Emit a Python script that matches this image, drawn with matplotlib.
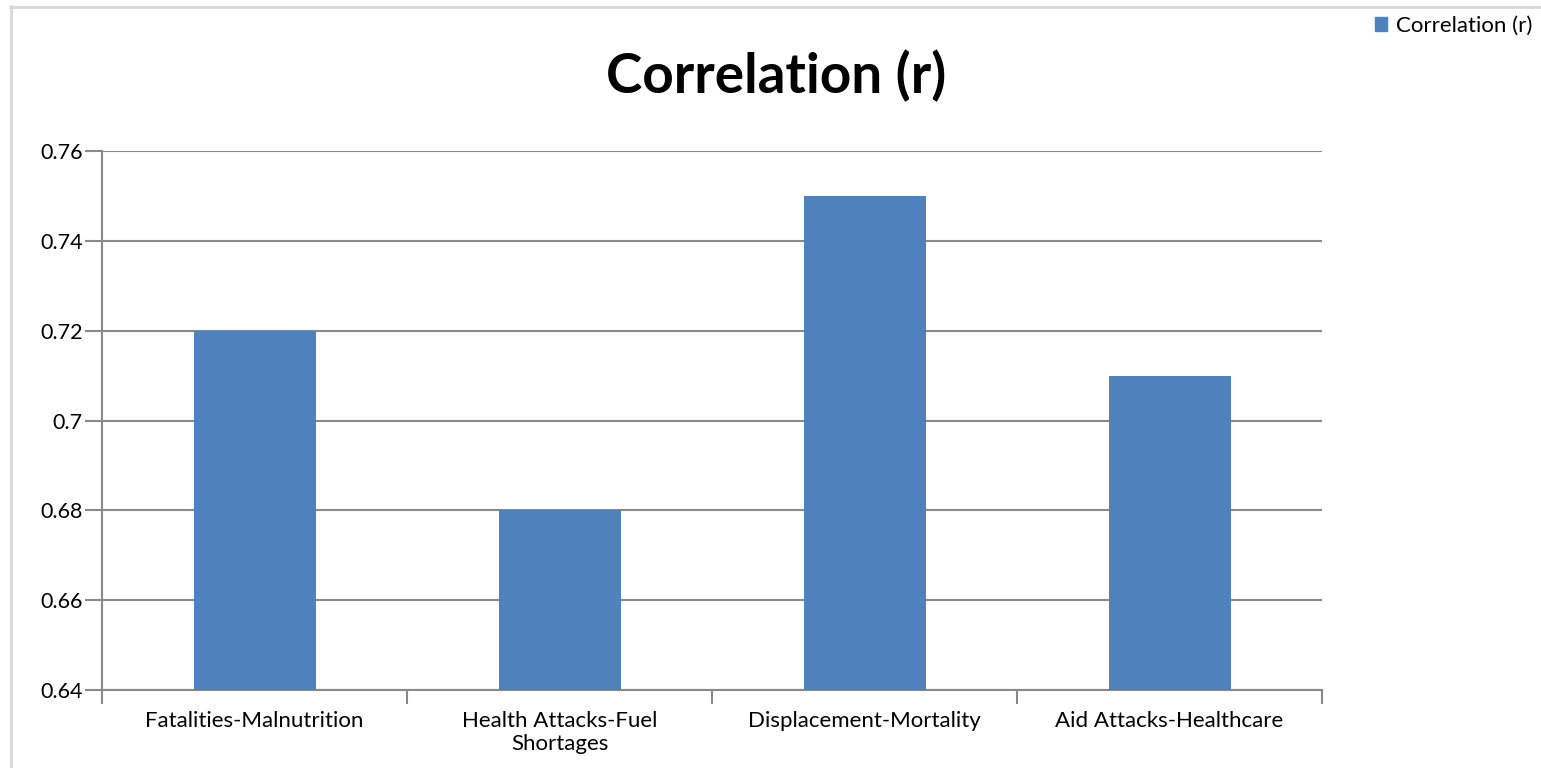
import matplotlib
matplotlib.use("Agg")
import matplotlib.pyplot as plt
from matplotlib.lines import Line2D
from matplotlib.patches import Patch
import numpy as np

plt.rcParams["font.family"] = ["Lato", "DejaVu Sans"]

categories = ["Fatalities-Malnutrition", "Health Attacks-Fuel\nShortages",
              "Displacement-Mortality", "Aid Attacks-Healthcare"]
values = [0.72, 0.68, 0.75, 0.71]
y_ticks = [0.64, 0.66, 0.68, 0.70, 0.72, 0.74, 0.76]
y_labels = ["0.64", "0.66", "0.68", "0.7", "0.72", "0.74", "0.76"]
series_name = "Correlation (r)"

BAR = "#4F81BD"
GRID = "#898989"
W, H = 1541, 768

fig = plt.figure(figsize=(W / 100, H / 100), dpi=100)
ax = fig.add_axes([102 / W, 1 - 690 / H, (1322 - 102) / W, (690 - 151) / H])

x = np.arange(len(categories))
ax.bar(x, values, width=0.4, color=BAR, zorder=3)
ax.set_xlim(-0.5, len(categories) - 0.5)
ax.set_ylim(0.64, 0.76)

ax.set_yticks(y_ticks)
ax.set_yticklabels(y_labels, fontsize=15.5)
ax.yaxis.grid(True, color=GRID, lw=1.5, zorder=0)
ax.tick_params(axis="y", length=12, width=1.5, color=GRID, pad=2)

ax.set_xticks(x)
ax.set_xticklabels(categories, fontsize=16, linespacing=1.2)
ax.tick_params(axis="x", length=0, pad=15)
ax.set_xticks(np.arange(len(categories) + 1) - 0.5, minor=True)
ax.tick_params(axis="x", which="minor", length=10, width=1.5, color=GRID)

for side in ("top", "right"):
    ax.spines[side].set_visible(False)
for side in ("left", "bottom"):
    ax.spines[side].set_color(GRID)
    ax.spines[side].set_linewidth(1.5)

fig.text(776 / W, 1 - 76 / H, series_name, ha="center", va="center",
         fontsize=39.5, fontweight="bold")

fig.legend(handles=[Patch(color=BAR, label=series_name)],
           loc="upper right", bbox_to_anchor=(1541 / W, 1 - 7 / H),
           frameon=False, fontsize=16, handlelength=0.55, handleheight=0.55,
           handletextpad=0.4, borderaxespad=0)

# outer chart border
fig.add_artist(Line2D([10.5 / W, 10.5 / W], [0, 1 - 6 / H],
                      transform=fig.transFigure, color="#d9d9d9", lw=2))
fig.add_artist(Line2D([10 / W, 1], [1 - 6.5 / H, 1 - 6.5 / H],
                      transform=fig.transFigure, color="#d9d9d9", lw=2))

fig.savefig("out.png", dpi=100, facecolor="white")
